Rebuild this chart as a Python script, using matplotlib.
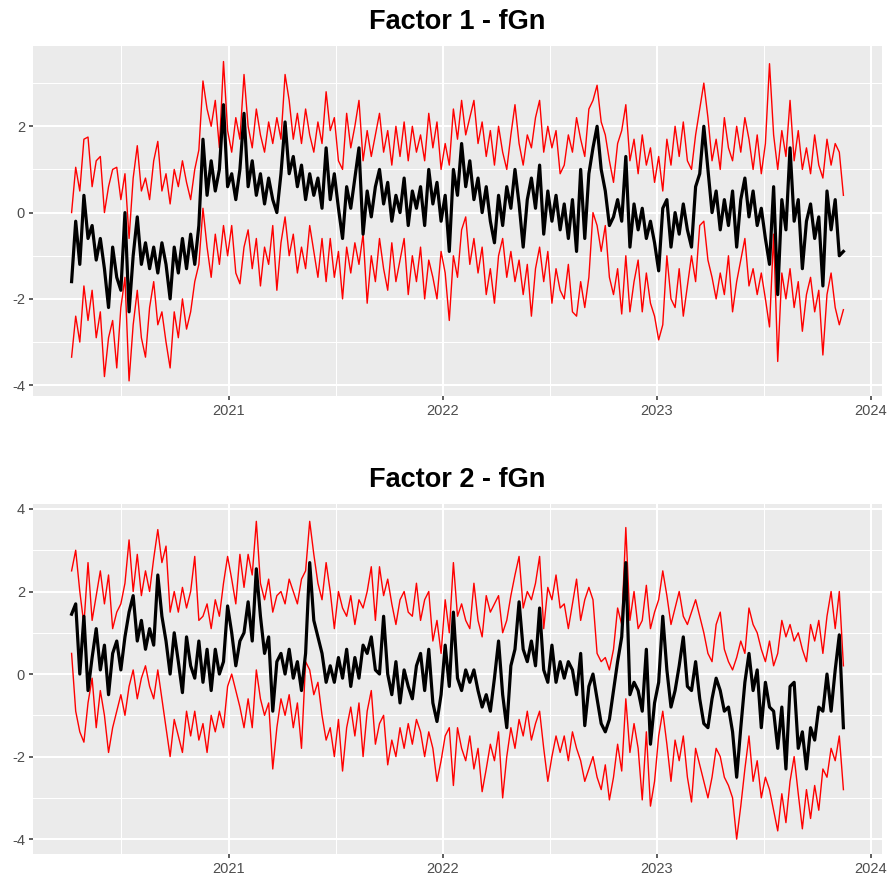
import numpy as np
import pandas as pd
import matplotlib
matplotlib.use("Agg")
import matplotlib.pyplot as plt
import matplotlib.dates as mdates

plt.rcParams['font.family'] = ['Liberation Sans', 'DejaVu Sans']

# ---------------- data (weekly readings) ----------------
start_date = "2020-04-08"
n_weeks = 189
titles = ["Factor 1 - fGn", "Factor 2 - fGn"]

f1_mid = [
    -1.6, -0.2, -1.2, 0.4, -0.6, -0.3, -1.1, -0.6, -1.3, -2.2,
    -0.8, -1.5, -1.8, 0.0, -2.3, -1.0, -0.1, -1.2, -0.7, -1.3,
    -0.8, -1.4, -0.7, -1.2, -2.0, -0.8, -1.4, -0.6, -1.3, -0.5,
    -1.2, -0.3, 1.7, 0.4, 1.2, 0.5, 1.0, 2.5, 0.6, 0.9,
    0.3, 1.0, 2.3, 0.6, 1.2, 0.4, 0.9, 0.2, 0.8, 0.3,
    0.0, 0.9, 2.1, 0.9, 1.3, 0.6, 1.1, 0.3, 0.9, 0.4,
    0.8, 0.1, 1.5, 0.3, 0.9, 0.1, -0.6, 0.6, 0.1, 0.8,
    1.5, -0.5, 0.5, -0.1, 0.6, 1.0, 0.2, 0.7, -0.2, 0.4,
    0.0, 0.8, -0.3, 0.5, 0.1, 0.6, -0.3, 1.0, 0.2, 0.7,
    -0.2, 0.4, -0.9, 1.0, 0.4, 1.6, 0.6, 1.2, 0.3, 0.8,
    0.0, 0.6, -0.2, -0.7, 0.4, -0.3, 0.6, 0.1, 1.0, 0.2,
    -0.8, 0.3, 0.8, 0.1, 1.1, -0.5, 0.5, -0.2, 0.4, -0.4,
    0.2, -0.6, 0.3, -0.9, 1.0, -0.6, 0.9, 1.5, 2.0, 1.0,
    0.5, -0.3, -0.1, 0.3, -0.2, 1.3, -0.8, 0.2, -0.4, 0.1,
    -0.6, -0.2, -0.7, -1.35, 0.1, 0.3, -0.8, 0.0, -0.5, 0.2,
    -0.4, -0.8, 0.6, 0.9, 2.0, 1.0, 0.0, 0.5, -0.4, 0.3,
    -0.3, 0.5, -0.8, 0.3, 0.8, -0.1, 0.5, -0.3, 0.1, -0.6,
    -1.2, 0.6, -1.9, 0.3, -0.4, 1.5, -0.2, 0.3, -1.3, -0.2,
    0.2, -0.6, -0.1, -1.7, 0.5, -0.4, 0.3, -1.0, -0.9,
]

f1_hi = [
    0.0, 1.05, 0.5, 1.7, 1.75, 0.6, 1.2, 1.3, 0.0, 0.6,
    1.0, 1.05, 0.3, 0.9, -0.6, 0.8, 1.55, 0.5, 0.8, 0.3,
    1.2, 1.65, 0.5, 0.9, 0.2, 1.0, 0.6, 1.2, 0.7, 0.3,
    1.0, 1.45, 3.05, 2.4, 2.0, 2.6, 1.5, 3.5, 1.9, 1.4,
    2.2, 1.7, 3.2, 2.0, 1.5, 2.4, 1.8, 1.4, 2.1, 1.6,
    2.2, 1.7, 3.2, 2.6, 1.7, 2.3, 1.6, 2.4, 1.8, 1.4,
    2.1, 1.6, 2.8, 1.9, 2.2, 1.2, 1.0, 2.3, 1.5, 2.0,
    2.6, 1.2, 1.9, 1.3, 1.8, 2.3, 1.4, 1.9, 1.1, 2.0,
    1.3, 2.1, 1.2, 2.0, 1.4, 1.8, 1.2, 2.3, 1.5, 2.1,
    1.0, 1.6, 1.1, 2.4, 1.7, 2.6, 1.8, 2.2, 2.6, 1.6,
    2.1, 1.3, 1.9, 1.1, 2.0, 1.4, 1.0, 1.8, 2.5, 1.6,
    1.1, 1.8, 1.5, 2.2, 2.6, 1.4, 2.0, 1.5, 1.9, 0.9,
    1.1, 1.8, 1.4, 2.2, 1.7, 1.3, 2.4, 2.6, 2.95, 2.1,
    1.8, 1.2, 0.7, 1.6, 1.9, 2.5, 1.2, 1.7, 0.9, 1.8,
    1.1, 1.5, 0.7, 1.3, 0.5, 1.7, 1.1, 2.0, 1.3, 2.1,
    1.2, 1.0, 1.8, 2.4, 3.0, 2.2, 1.2, 1.7, 1.0, 2.2,
    1.5, 1.2, 2.0, 1.4, 2.2, 1.7, 1.0, 1.8, 0.9, 1.6,
    3.45, 1.8, 1.0, 1.9, 1.3, 2.6, 1.2, 1.9, 1.0, 1.5,
    0.9, 1.8, 1.1, 0.8, 1.7, 1.1, 1.6, 1.4, 0.4,
]

f1_lo = [
    -3.35, -2.4, -3.0, -1.7, -2.5, -1.8, -2.9, -2.3, -3.8, -2.9,
    -2.5, -3.6, -2.2, -1.5, -3.9, -2.6, -1.8, -2.9, -3.35, -2.2,
    -1.6, -2.6, -2.3, -3.0, -3.6, -2.3, -2.9, -2.0, -2.7, -2.3,
    -1.6, -1.2, 0.1, -0.8, -1.5, -0.5, -1.2, -0.3, -1.0, -0.3,
    -1.4, -1.65, -0.8, -0.4, -1.3, -0.6, -1.7, -0.8, -1.2, -0.3,
    -1.8, -0.7, -0.1, -1.0, -0.5, -1.4, -0.8, -1.3, -0.3, -0.9,
    -1.5, -0.6, -1.6, -0.6, -1.5, -0.9, -2.0, -0.8, -1.4, -0.7,
    -1.2, -0.5, -2.1, -1.0, -1.6, -0.6, -1.3, -1.8, -0.7, -1.6,
    -1.1, -0.6, -1.9, -1.0, -1.6, -0.8, -2.0, -1.1, -1.5, -2.0,
    -0.9, -1.4, -2.5, -1.0, -1.5, -0.4, -0.1, -1.2, -0.6, -1.4,
    -0.8, -1.9, -1.3, -2.1, -1.0, -0.6, -1.5, -0.9, -1.6, -1.1,
    -1.9, -1.2, -2.4, -1.3, -0.8, -1.6, -0.9, -2.1, -1.3, -1.8,
    -2.0, -1.2, -2.3, -2.4, -1.6, -2.2, -1.5, 0.0, -0.3, -0.9,
    -0.3, -1.5, -1.9, -1.3, -2.35, -1.0, -2.3, -1.6, -1.1, -2.3,
    -1.4, -2.1, -2.4, -2.95, -2.6, -1.0, -2.0, -2.2, -1.3, -2.4,
    -1.7, -1.0, -1.6, -0.3, -0.2, -1.1, -1.5, -2.0, -1.4, -1.9,
    -1.0, -2.3, -1.6, -1.1, -0.6, -1.7, -1.3, -1.9, -1.4, -2.0,
    -2.65, -0.5, -3.45, -1.4, -2.0, -1.3, -2.2, -1.6, -2.75, -1.9,
    -1.5, -2.3, -1.8, -3.3, -1.9, -1.4, -2.2, -2.6, -2.25,
]

f2_mid = [
    1.45, 1.7, 0.0, 1.4, -0.4, 0.4, 1.1, 0.1, 0.7, -0.5,
    0.5, 0.8, 0.1, 0.9, 1.5, 1.9, 0.8, 1.3, 0.6, 1.1,
    0.7, 2.4, 1.4, 0.8, 0.0, 1.0, 0.3, -0.45, 0.9, 0.2,
    -0.1, 0.8, -0.2, 0.6, -0.4, 0.6, 0.0, 0.3, 1.65, 1.0,
    0.2, 0.8, 1.0, 1.75, 0.8, 2.55, 1.4, 0.5, 0.9, -0.9,
    0.3, 0.5, 0.0, 0.6, -0.1, 0.3, -0.4, 0.5, 2.7, 1.3,
    0.9, 0.5, -0.2, 0.2, -0.2, 0.4, -0.1, 0.6, -0.3, 0.4,
    -0.1, 0.7, 0.5, 0.9, 0.1, 0.0, 1.4, 0.0, -0.5, 0.3,
    -0.7, 0.1, -0.3, -0.6, 0.2, 0.5, -0.4, 0.6, -0.7, -1.15,
    -0.5, 0.7, -0.3, 1.5, -0.1, -0.4, 0.1, -0.2, 0.1, -0.4,
    -0.8, -0.5, -0.9, -0.1, 0.8, -0.5, -1.3, 0.2, 0.6, 1.75,
    0.6, 0.3, 0.8, 0.2, 1.6, 0.1, -0.2, 0.7, -0.2, 0.3,
    -0.1, 0.3, 0.1, -0.5, 0.5, -1.25, -0.3, 0.0, -0.6, -1.2,
    -1.4, -1.1, -0.4, 0.3, 0.9, 2.7, -0.5, -0.2, -0.4, -0.9,
    0.6, -1.7, -0.7, -0.2, 1.4, 0.1, -0.8, -0.4, 0.2, 0.9,
    -0.3, -0.4, 0.3, -0.6, -1.2, -1.3, -0.6, -0.1, -0.4, -0.9,
    -0.8, -1.4, -2.5, -1.3, -0.2, 0.5, -0.4, 0.1, -1.3, -0.2,
    -0.8, -0.9, -1.8, -0.8, -2.3, -0.3, -0.2, -1.8, -1.4, -2.3,
    -1.3, -1.6, -0.8, -0.9, 0.0, -0.9, 0.1, 0.95, -1.3,
]

f2_hi = [
    2.5, 3.0, 2.0, 1.2, 2.7, 1.3, 1.9, 2.5, 1.7, 2.4,
    1.1, 1.5, 1.7, 2.2, 3.25, 2.0, 2.9, 1.9, 2.5, 2.0,
    2.8, 3.5, 2.7, 3.1, 1.5, 2.0, 1.5, 2.1, 1.6, 2.0,
    2.85, 1.3, 1.4, 1.7, 1.1, 1.8, 1.4, 2.2, 2.85, 2.3,
    1.7, 2.9, 2.1, 2.9, 2.4, 3.7, 2.2, 1.8, 2.3, 1.5,
    1.9, 2.0, 1.7, 2.3, 2.0, 1.7, 2.3, 2.5, 3.7, 2.9,
    2.2, 1.8, 2.7, 2.0, 1.1, 2.0, 1.6, 1.4, 1.9, 1.2,
    1.8, 1.6, 2.0, 2.6, 1.3, 2.6, 1.9, 2.3, 1.7, 1.2,
    1.8, 2.0, 1.5, 1.4, 2.2, 1.3, 1.8, 2.0, 0.8, 1.3,
    0.5, 1.8, 1.0, 2.7, 1.4, 1.7, 1.3, 1.1, 2.2, 1.3,
    0.9, 1.9, 1.5, 1.7, 1.9, 1.0, 1.3, 1.9, 2.4, 2.85,
    1.6, 2.0, 1.8, 2.2, 2.85, 1.1, 2.1, 1.8, 2.4, 1.6,
    1.7, 1.1, 1.7, 2.3, 1.3, 1.8, 2.1, 1.8, 0.5, 0.3,
    0.4, 0.1, 0.6, 1.6, 1.2, 3.55, 1.3, 2.0, 1.1, 1.3,
    2.15, 1.1, 1.5, 1.8, 2.5, 1.9, 1.2, 1.6, 2.0, 1.4,
    1.2, 1.5, 1.8, 1.4, 1.0, 0.5, 0.3, 1.2, 1.5, 0.6,
    0.3, 0.1, 0.4, 0.8, 0.5, 1.6, 1.2, 1.0, 0.6, 0.3,
    0.8, 0.2, 0.5, 1.3, 0.9, 1.2, 0.8, 1.0, 0.6, 0.3,
    1.2, 0.8, 1.3, 0.5, 1.4, 2.0, 1.1, 2.0, 0.2,
]

f2_lo = [
    0.5, -0.9, -1.4, -1.65, -0.7, -0.1, -1.3, -0.4, -1.0, -1.9,
    -1.3, -0.9, -0.5, -1.0, -0.3, 0.1, -0.6, -0.1, 0.2, -0.3,
    -0.6, 0.1, -0.6, -1.3, -2.0, -1.1, -1.5, -1.9, -0.9, -1.5,
    -0.9, -1.6, -1.2, -1.9, -1.0, -1.4, -0.9, -1.3, -0.3, 0.0,
    -0.4, -0.8, -1.3, -0.6, -1.3, 0.1, -0.6, -1.0, -0.7, -2.3,
    -1.3, -0.6, -1.0, -0.5, -1.3, -0.7, -1.8, 0.3, 0.1, -0.5,
    -0.2, -1.0, -1.6, -1.3, -2.0, -1.1, -2.35, -1.3, -0.8, -1.5,
    -0.7, -2.0, -0.9, -0.4, -1.7, -1.2, -1.0, -2.2, -1.6, -2.0,
    -1.3, -1.8, -1.2, -1.7, -1.1, -1.4, -2.0, -1.4, -1.8, -2.6,
    -2.1, -1.5, -1.3, -2.7, -1.3, -1.8, -2.1, -1.5, -2.3, -1.8,
    -2.85, -2.3, -1.7, -2.1, -1.4, -3.0, -2.0, -1.3, -1.8, -1.1,
    -1.5, -0.9, -1.6, -1.2, -0.9, -1.8, -2.6, -2.0, -1.5, -1.9,
    -1.5, -2.1, -1.4, -1.8, -2.1, -2.6, -2.3, -2.0, -2.5, -2.8,
    -2.2, -3.05, -2.5, -1.7, -2.35, -0.6, -1.9, -1.2, -1.8, -3.05,
    -1.4, -3.2, -2.6, -1.5, -0.9, -1.7, -2.6, -1.6, -2.1, -1.5,
    -2.5, -3.1, -1.8, -2.2, -2.6, -3.0, -2.5, -1.8, -2.0, -2.5,
    -2.7, -3.0, -4.0, -3.2, -2.3, -1.5, -2.6, -2.1, -3.0, -2.5,
    -2.8, -3.3, -3.8, -2.9, -3.6, -2.6, -2.0, -2.9, -3.75, -2.8,
    -3.5, -2.7, -3.3, -2.3, -2.5, -1.8, -2.1, -1.5, -2.8,
]

y_ticks_1 = [-4, -2, 0, 2]
y_ticks_2 = [-4, -2, 0, 2, 4]

# ---------------- figure ----------------
W, H, DPI = 890, 884, 100
fig = plt.figure(figsize=(W / DPI, H / DPI), dpi=DPI, facecolor='white')

dates = pd.date_range(start_date, periods=n_weeks, freq='7D')
span = dates[-1] - dates[0]
xlim = (dates[0] - span * 0.05, dates[-1] + span * 0.05)


def px_axes(left, top, right, bottom):
    return fig.add_axes([left / W, 1 - bottom / H, (right - left) / W, (bottom - top) / H])


def style(ax, ylim, yticks):
    ax.set_facecolor('#EBEBEB')
    for s in ax.spines.values():
        s.set_visible(False)
    ax.set_yticks(yticks)
    minor = [t + 1 for t in yticks if ylim[0] < t + 1 < ylim[1]]
    ax.set_yticks(minor, minor=True)
    ax.set_yticklabels([str(t) for t in yticks])
    ax.xaxis.set_major_locator(mdates.YearLocator())
    ax.xaxis.set_major_formatter(mdates.DateFormatter('%Y'))
    ax.xaxis.set_minor_locator(mdates.MonthLocator(bymonth=7, bymonthday=2))
    ax.set_xlim(*xlim)
    ax.set_ylim(*ylim)
    ax.set_axisbelow(True)
    ax.grid(which='major', color='white', linewidth=1.5)
    ax.grid(which='minor', color='white', linewidth=0.75)
    ax.tick_params(which='major', length=3.2, width=1.1, color='#333333',
                   labelcolor='#4D4D4D', labelsize=10.5, pad=2.5)
    ax.tick_params(which='minor', length=0)


panels = [
    (px_axes(33, 46, 882, 396), f1_lo, f1_hi, f1_mid, (-4.25, 3.86), y_ticks_1, 29.3),
    (px_axes(33, 504, 882, 854), f2_lo, f2_hi, f2_mid, (-4.36, 4.12), y_ticks_2, 487.3),
]

for (ax, lo, hi, mid, ylim, yt, title_y), title in zip(panels, titles):
    ax.plot(dates, lo, color='#FF0000', linewidth=1.0)
    ax.plot(dates, hi, color='#FF0000', linewidth=1.0)
    ax.plot(dates, mid, color='black', linewidth=2.3)
    style(ax, ylim, yt)
    fig.text((33 + 882) / 2 / W, 1 - title_y / H, title, ha='center', va='baseline',
             fontsize=19.5, fontweight='bold', color='black')

fig.savefig('out.png', dpi=DPI, facecolor='white')
